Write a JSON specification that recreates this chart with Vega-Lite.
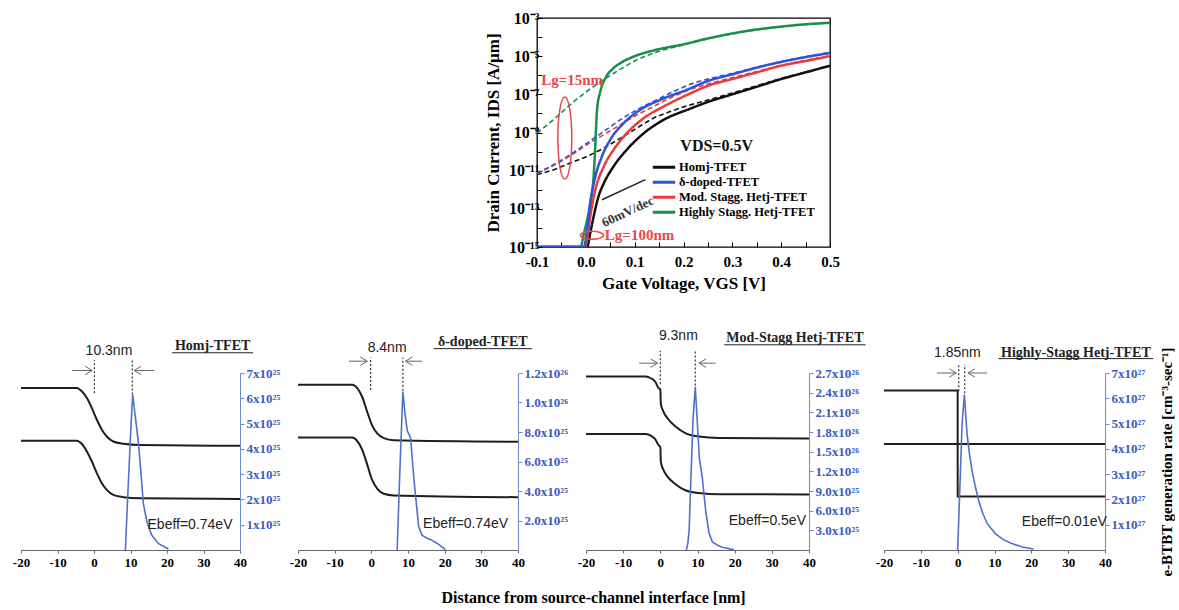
{
  "$schema": "https://vega.github.io/schema/vega-lite/v6.json",
  "background": "white",
  "padding": {"left": 12, "top": 9, "right": 0, "bottom": 0},
  "config": {
    "view": {"stroke": null},
    "font": "Liberation Serif",
    "axis": {"labelFont": "Liberation Serif", "labelFontWeight": "bold", "titleFont": "Liberation Serif", "titleFontWeight": "bold", "grid": false, "labelColor": "black", "titleColor": "black", "domainColor": "black", "tickColor": "black", "labelOverlap": false, "tickCount": 60}
  },
  "datasets": {
    "iv": [
      {"dev": "Homj-TFET", "lg": "100nm", "v": -0.1, "I": 1e-15},
      {"dev": "Homj-TFET", "lg": "100nm", "v": 0.0025, "I": 1e-15},
      {"dev": "Homj-TFET", "lg": "100nm", "v": 0.009, "I": 5.4e-15},
      {"dev": "Homj-TFET", "lg": "100nm", "v": 0.016, "I": 4.0e-14},
      {"dev": "Homj-TFET", "lg": "100nm", "v": 0.026, "I": 4.5e-13},
      {"dev": "Homj-TFET", "lg": "100nm", "v": 0.037, "I": 2.24e-12},
      {"dev": "Homj-TFET", "lg": "100nm", "v": 0.057, "I": 1.7e-11},
      {"dev": "Homj-TFET", "lg": "100nm", "v": 0.084, "I": 1.26e-10},
      {"dev": "Homj-TFET", "lg": "100nm", "v": 0.119, "I": 9.3e-10},
      {"dev": "Homj-TFET", "lg": "100nm", "v": 0.16, "I": 4.7e-9},
      {"dev": "Homj-TFET", "lg": "100nm", "v": 0.214, "I": 1.78e-8},
      {"dev": "Homj-TFET", "lg": "100nm", "v": 0.25, "I": 4.0e-8},
      {"dev": "Homj-TFET", "lg": "100nm", "v": 0.3, "I": 1.0e-7},
      {"dev": "Homj-TFET", "lg": "100nm", "v": 0.35, "I": 2.5e-7},
      {"dev": "Homj-TFET", "lg": "100nm", "v": 0.4, "I": 6.3e-7},
      {"dev": "Homj-TFET", "lg": "100nm", "v": 0.45, "I": 1.41e-6},
      {"dev": "Homj-TFET", "lg": "100nm", "v": 0.5, "I": 3.16e-6},
      {"dev": "Homj-TFET", "lg": "15nm", "v": -0.1, "I": 6.3e-12},
      {"dev": "Homj-TFET", "lg": "15nm", "v": -0.066, "I": 1.12e-11},
      {"dev": "Homj-TFET", "lg": "15nm", "v": -0.032, "I": 2.5e-11},
      {"dev": "Homj-TFET", "lg": "15nm", "v": 0.0025, "I": 5.6e-11},
      {"dev": "Homj-TFET", "lg": "15nm", "v": 0.037, "I": 1.55e-10},
      {"dev": "Homj-TFET", "lg": "15nm", "v": 0.071, "I": 5.1e-10},
      {"dev": "Homj-TFET", "lg": "15nm", "v": 0.105, "I": 1.74e-9},
      {"dev": "Homj-TFET", "lg": "15nm", "v": 0.139, "I": 5.75e-9},
      {"dev": "Homj-TFET", "lg": "15nm", "v": 0.173, "I": 1.26e-8},
      {"dev": "Homj-TFET", "lg": "15nm", "v": 0.221, "I": 3.16e-8},
      {"dev": "Homj-TFET", "lg": "15nm", "v": 0.25, "I": 5.0e-8},
      {"dev": "Homj-TFET", "lg": "15nm", "v": 0.3, "I": 1.17e-7},
      {"dev": "Homj-TFET", "lg": "15nm", "v": 0.35, "I": 2.8e-7},
      {"dev": "Homj-TFET", "lg": "15nm", "v": 0.4, "I": 6.8e-7},
      {"dev": "Homj-TFET", "lg": "15nm", "v": 0.45, "I": 1.48e-6},
      {"dev": "Homj-TFET", "lg": "15nm", "v": 0.5, "I": 3.16e-6},
      {"dev": "Mod. Stagg. Hetj-TFET", "lg": "100nm", "v": -0.1, "I": 1e-15},
      {"dev": "Mod. Stagg. Hetj-TFET", "lg": "100nm", "v": -0.001, "I": 1e-15},
      {"dev": "Mod. Stagg. Hetj-TFET", "lg": "100nm", "v": 0.0025, "I": 2.5e-15},
      {"dev": "Mod. Stagg. Hetj-TFET", "lg": "100nm", "v": 0.009, "I": 4.0e-14},
      {"dev": "Mod. Stagg. Hetj-TFET", "lg": "100nm", "v": 0.0195, "I": 1.0e-12},
      {"dev": "Mod. Stagg. Hetj-TFET", "lg": "100nm", "v": 0.037, "I": 1.7e-11},
      {"dev": "Mod. Stagg. Hetj-TFET", "lg": "100nm", "v": 0.057, "I": 1.26e-10},
      {"dev": "Mod. Stagg. Hetj-TFET", "lg": "100nm", "v": 0.084, "I": 9.3e-10},
      {"dev": "Mod. Stagg. Hetj-TFET", "lg": "100nm", "v": 0.119, "I": 5.75e-9},
      {"dev": "Mod. Stagg. Hetj-TFET", "lg": "100nm", "v": 0.16, "I": 2.34e-8},
      {"dev": "Mod. Stagg. Hetj-TFET", "lg": "100nm", "v": 0.214, "I": 1.12e-7},
      {"dev": "Mod. Stagg. Hetj-TFET", "lg": "100nm", "v": 0.25, "I": 2.8e-7},
      {"dev": "Mod. Stagg. Hetj-TFET", "lg": "100nm", "v": 0.3, "I": 6.3e-7},
      {"dev": "Mod. Stagg. Hetj-TFET", "lg": "100nm", "v": 0.35, "I": 1.41e-6},
      {"dev": "Mod. Stagg. Hetj-TFET", "lg": "100nm", "v": 0.4, "I": 3.16e-6},
      {"dev": "Mod. Stagg. Hetj-TFET", "lg": "100nm", "v": 0.45, "I": 5.6e-6},
      {"dev": "Mod. Stagg. Hetj-TFET", "lg": "100nm", "v": 0.5, "I": 1.0e-5},
      {"dev": "Mod. Stagg. Hetj-TFET", "lg": "15nm", "v": -0.1, "I": 7.1e-12},
      {"dev": "Mod. Stagg. Hetj-TFET", "lg": "15nm", "v": -0.066, "I": 1.9e-11},
      {"dev": "Mod. Stagg. Hetj-TFET", "lg": "15nm", "v": -0.032, "I": 6.0e-11},
      {"dev": "Mod. Stagg. Hetj-TFET", "lg": "15nm", "v": 0.0025, "I": 2.3e-10},
      {"dev": "Mod. Stagg. Hetj-TFET", "lg": "15nm", "v": 0.037, "I": 7.8e-10},
      {"dev": "Mod. Stagg. Hetj-TFET", "lg": "15nm", "v": 0.071, "I": 2.6e-9},
      {"dev": "Mod. Stagg. Hetj-TFET", "lg": "15nm", "v": 0.105, "I": 8.5e-9},
      {"dev": "Mod. Stagg. Hetj-TFET", "lg": "15nm", "v": 0.139, "I": 2.34e-8},
      {"dev": "Mod. Stagg. Hetj-TFET", "lg": "15nm", "v": 0.173, "I": 6.5e-8},
      {"dev": "Mod. Stagg. Hetj-TFET", "lg": "15nm", "v": 0.221, "I": 2.1e-7},
      {"dev": "Mod. Stagg. Hetj-TFET", "lg": "15nm", "v": 0.25, "I": 3.5e-7},
      {"dev": "Mod. Stagg. Hetj-TFET", "lg": "15nm", "v": 0.3, "I": 7.6e-7},
      {"dev": "Mod. Stagg. Hetj-TFET", "lg": "15nm", "v": 0.35, "I": 1.58e-6},
      {"dev": "Mod. Stagg. Hetj-TFET", "lg": "15nm", "v": 0.4, "I": 3.3e-6},
      {"dev": "Mod. Stagg. Hetj-TFET", "lg": "15nm", "v": 0.45, "I": 6.0e-6},
      {"dev": "Mod. Stagg. Hetj-TFET", "lg": "15nm", "v": 0.5, "I": 1.05e-5},
      {"dev": "Highly Stagg. Hetj-TFET", "lg": "100nm", "v": -0.1, "I": 1e-15},
      {"dev": "Highly Stagg. Hetj-TFET", "lg": "100nm", "v": -0.011, "I": 1e-15},
      {"dev": "Highly Stagg. Hetj-TFET", "lg": "100nm", "v": -0.004, "I": 5.0e-15},
      {"dev": "Highly Stagg. Hetj-TFET", "lg": "100nm", "v": 0.009, "I": 2.0e-13},
      {"dev": "Highly Stagg. Hetj-TFET", "lg": "100nm", "v": 0.016, "I": 5.0e-12},
      {"dev": "Highly Stagg. Hetj-TFET", "lg": "100nm", "v": 0.0195, "I": 2.5e-10},
      {"dev": "Highly Stagg. Hetj-TFET", "lg": "100nm", "v": 0.023, "I": 1.6e-8},
      {"dev": "Highly Stagg. Hetj-TFET", "lg": "100nm", "v": 0.03, "I": 1.5e-7},
      {"dev": "Highly Stagg. Hetj-TFET", "lg": "100nm", "v": 0.04, "I": 7.0e-7},
      {"dev": "Highly Stagg. Hetj-TFET", "lg": "100nm", "v": 0.057, "I": 2.4e-6},
      {"dev": "Highly Stagg. Hetj-TFET", "lg": "100nm", "v": 0.075, "I": 5.0e-6},
      {"dev": "Highly Stagg. Hetj-TFET", "lg": "100nm", "v": 0.1, "I": 1.0e-5},
      {"dev": "Highly Stagg. Hetj-TFET", "lg": "100nm", "v": 0.139, "I": 2.0e-5},
      {"dev": "Highly Stagg. Hetj-TFET", "lg": "100nm", "v": 0.2, "I": 4.2e-5},
      {"dev": "Highly Stagg. Hetj-TFET", "lg": "100nm", "v": 0.25, "I": 8.5e-5},
      {"dev": "Highly Stagg. Hetj-TFET", "lg": "100nm", "v": 0.3, "I": 1.55e-4},
      {"dev": "Highly Stagg. Hetj-TFET", "lg": "100nm", "v": 0.35, "I": 2.5e-4},
      {"dev": "Highly Stagg. Hetj-TFET", "lg": "100nm", "v": 0.4, "I": 3.55e-4},
      {"dev": "Highly Stagg. Hetj-TFET", "lg": "100nm", "v": 0.45, "I": 4.68e-4},
      {"dev": "Highly Stagg. Hetj-TFET", "lg": "100nm", "v": 0.5, "I": 5.62e-4},
      {"dev": "Highly Stagg. Hetj-TFET", "lg": "15nm", "v": -0.1, "I": 9.3e-10},
      {"dev": "Highly Stagg. Hetj-TFET", "lg": "15nm", "v": -0.066, "I": 4.7e-9},
      {"dev": "Highly Stagg. Hetj-TFET", "lg": "15nm", "v": -0.032, "I": 2.9e-8},
      {"dev": "Highly Stagg. Hetj-TFET", "lg": "15nm", "v": 0.0025, "I": 1.45e-7},
      {"dev": "Highly Stagg. Hetj-TFET", "lg": "15nm", "v": 0.037, "I": 5.9e-7},
      {"dev": "Highly Stagg. Hetj-TFET", "lg": "15nm", "v": 0.071, "I": 2.1e-6},
      {"dev": "Highly Stagg. Hetj-TFET", "lg": "15nm", "v": 0.105, "I": 6.5e-6},
      {"dev": "Highly Stagg. Hetj-TFET", "lg": "15nm", "v": 0.14, "I": 1.5e-5},
      {"dev": "Highly Stagg. Hetj-TFET", "lg": "15nm", "v": 0.2, "I": 3.9e-5},
      {"dev": "Highly Stagg. Hetj-TFET", "lg": "15nm", "v": 0.25, "I": 8.1e-5},
      {"dev": "Highly Stagg. Hetj-TFET", "lg": "15nm", "v": 0.3, "I": 1.5e-4},
      {"dev": "Highly Stagg. Hetj-TFET", "lg": "15nm", "v": 0.35, "I": 2.4e-4},
      {"dev": "Highly Stagg. Hetj-TFET", "lg": "15nm", "v": 0.4, "I": 3.47e-4},
      {"dev": "Highly Stagg. Hetj-TFET", "lg": "15nm", "v": 0.45, "I": 4.57e-4},
      {"dev": "Highly Stagg. Hetj-TFET", "lg": "15nm", "v": 0.5, "I": 5.5e-4},
      {"dev": "δ-doped-TFET", "lg": "100nm", "v": -0.1, "I": 1e-15},
      {"dev": "δ-doped-TFET", "lg": "100nm", "v": -0.004, "I": 1e-15},
      {"dev": "δ-doped-TFET", "lg": "100nm", "v": 0.0025, "I": 7.9e-15},
      {"dev": "δ-doped-TFET", "lg": "100nm", "v": 0.009, "I": 2.0e-13},
      {"dev": "δ-doped-TFET", "lg": "100nm", "v": 0.0195, "I": 5.0e-12},
      {"dev": "δ-doped-TFET", "lg": "100nm", "v": 0.033, "I": 5.6e-11},
      {"dev": "δ-doped-TFET", "lg": "100nm", "v": 0.05, "I": 4.2e-10},
      {"dev": "δ-doped-TFET", "lg": "100nm", "v": 0.078, "I": 3.16e-9},
      {"dev": "δ-doped-TFET", "lg": "100nm", "v": 0.112, "I": 1.58e-8},
      {"dev": "δ-doped-TFET", "lg": "100nm", "v": 0.153, "I": 5.2e-8},
      {"dev": "δ-doped-TFET", "lg": "100nm", "v": 0.207, "I": 1.74e-7},
      {"dev": "δ-doped-TFET", "lg": "100nm", "v": 0.25, "I": 5.0e-7},
      {"dev": "δ-doped-TFET", "lg": "100nm", "v": 0.3, "I": 1.12e-6},
      {"dev": "δ-doped-TFET", "lg": "100nm", "v": 0.35, "I": 2.5e-6},
      {"dev": "δ-doped-TFET", "lg": "100nm", "v": 0.4, "I": 5.0e-6},
      {"dev": "δ-doped-TFET", "lg": "100nm", "v": 0.45, "I": 8.9e-6},
      {"dev": "δ-doped-TFET", "lg": "100nm", "v": 0.5, "I": 1.48e-5},
      {"dev": "δ-doped-TFET", "lg": "15nm", "v": -0.1, "I": 7.6e-12},
      {"dev": "δ-doped-TFET", "lg": "15nm", "v": -0.066, "I": 2.04e-11},
      {"dev": "δ-doped-TFET", "lg": "15nm", "v": -0.032, "I": 6.9e-11},
      {"dev": "δ-doped-TFET", "lg": "15nm", "v": 0.0025, "I": 2.8e-10},
      {"dev": "δ-doped-TFET", "lg": "15nm", "v": 0.037, "I": 1.15e-9},
      {"dev": "δ-doped-TFET", "lg": "15nm", "v": 0.071, "I": 4.7e-9},
      {"dev": "δ-doped-TFET", "lg": "15nm", "v": 0.105, "I": 1.58e-8},
      {"dev": "δ-doped-TFET", "lg": "15nm", "v": 0.139, "I": 4.3e-8},
      {"dev": "δ-doped-TFET", "lg": "15nm", "v": 0.173, "I": 1.17e-7},
      {"dev": "δ-doped-TFET", "lg": "15nm", "v": 0.221, "I": 3.9e-7},
      {"dev": "δ-doped-TFET", "lg": "15nm", "v": 0.25, "I": 6.3e-7},
      {"dev": "δ-doped-TFET", "lg": "15nm", "v": 0.3, "I": 1.26e-6},
      {"dev": "δ-doped-TFET", "lg": "15nm", "v": 0.35, "I": 2.6e-6},
      {"dev": "δ-doped-TFET", "lg": "15nm", "v": 0.4, "I": 5.2e-6},
      {"dev": "δ-doped-TFET", "lg": "15nm", "v": 0.45, "I": 9.3e-6},
      {"dev": "δ-doped-TFET", "lg": "15nm", "v": 0.5, "I": 1.58e-5}
    ],
    "ivnote": [
      {"kind": "lg", "v": -0.028, "I": 5.9e-7, "label": "Lg=15nm"},
      {"kind": "lg", "v": 0.11, "I": 4.4e-15, "label": "Lg=100nm"},
      {"kind": "ellT", "v": -0.043, "I": 5.1e-10},
      {"kind": "ellW", "v": 0.0126, "I": 4.1e-15},
      {"kind": "slope", "v": 0.033, "I": 3.0e-13, "v2": 0.122, "I2": 3.4e-12},
      {"kind": "stxt", "v": 0.086, "I": 7.0e-14, "label": "60mV/dec"},
      {"kind": "vds", "v": 0.268, "I": 1.95e-10, "label": "VDS=0.5V"}
    ],
    "bottom": [
      {"p": 1, "k": "band", "s": "c", "x": -20, "y": 6.41},
      {"p": 1, "k": "band", "s": "c", "x": -4.7, "y": 6.41},
      {"p": 1, "k": "band", "s": "c", "x": -3.3, "y": 6.27},
      {"p": 1, "k": "band", "s": "c", "x": -1.95, "y": 6.01},
      {"p": 1, "k": "band", "s": "c", "x": -0.58, "y": 5.61},
      {"p": 1, "k": "band", "s": "c", "x": 0.78, "y": 5.15},
      {"p": 1, "k": "band", "s": "c", "x": 2.15, "y": 4.76},
      {"p": 1, "k": "band", "s": "c", "x": 3.5, "y": 4.49},
      {"p": 1, "k": "band", "s": "c", "x": 5.3, "y": 4.29},
      {"p": 1, "k": "band", "s": "c", "x": 8.1, "y": 4.2},
      {"p": 1, "k": "band", "s": "c", "x": 12.6, "y": 4.15},
      {"p": 1, "k": "band", "s": "c", "x": 40, "y": 4.12},
      {"p": 1, "k": "band", "s": "v", "x": -20, "y": 4.32},
      {"p": 1, "k": "band", "s": "v", "x": -4.7, "y": 4.32},
      {"p": 1, "k": "band", "s": "v", "x": -3.3, "y": 4.19},
      {"p": 1, "k": "band", "s": "v", "x": -1.95, "y": 3.9},
      {"p": 1, "k": "band", "s": "v", "x": -0.58, "y": 3.5},
      {"p": 1, "k": "band", "s": "v", "x": 0.78, "y": 3.04},
      {"p": 1, "k": "band", "s": "v", "x": 2.15, "y": 2.64},
      {"p": 1, "k": "band", "s": "v", "x": 3.5, "y": 2.38},
      {"p": 1, "k": "band", "s": "v", "x": 5.3, "y": 2.18},
      {"p": 1, "k": "band", "s": "v", "x": 8.1, "y": 2.09},
      {"p": 1, "k": "band", "s": "v", "x": 12.6, "y": 2.05},
      {"p": 1, "k": "band", "s": "v", "x": 40, "y": 2.02},
      {"p": 1, "k": "gen", "x": 8.6, "y": 0},
      {"p": 1, "k": "gen", "x": 9.2, "y": 2.0},
      {"p": 1, "k": "gen", "x": 10.0, "y": 4.5},
      {"p": 1, "k": "gen", "x": 10.6, "y": 6.15},
      {"p": 1, "k": "gen", "x": 11.3, "y": 5.3},
      {"p": 1, "k": "gen", "x": 12.2, "y": 4.2},
      {"p": 1, "k": "gen", "x": 13.0, "y": 2.8},
      {"p": 1, "k": "gen", "x": 13.5, "y": 1.85},
      {"p": 1, "k": "gen", "x": 14.5, "y": 1.12},
      {"p": 1, "k": "gen", "x": 15.8, "y": 0.59},
      {"p": 1, "k": "gen", "x": 17.6, "y": 0.26},
      {"p": 1, "k": "gen", "x": 20.4, "y": 0.04},
      {"p": 1, "k": "dash", "x": 0.1, "y": 6.2, "y2": 7.5},
      {"p": 1, "k": "dash", "x": 10.5, "y": 6.15, "y2": 7.5},
      {"p": 1, "k": "arrow", "x": -6, "x2": -0.5, "y": 7.1},
      {"p": 1, "k": "headR", "x": -0.5, "y": 7.1},
      {"p": 1, "k": "arrow", "x": 16.5, "x2": 11, "y": 7.1},
      {"p": 1, "k": "headL", "x": 11, "y": 7.1},
      {"p": 1, "k": "dist", "x": 4.1, "y": 7.87, "label": "10.3nm"},
      {"p": 1, "k": "eb", "x": 26.3, "y": 0.99, "label": "Ebeff=0.74eV"},
      {"p": 1, "k": "title", "x": 32.5, "y": 8.06, "label": "Homj-TFET"},
      {"p": 1, "k": "ul", "x": 21.4, "x2": 43.6, "y": 7.8},

      {"p": 2, "k": "band", "s": "c", "x": -20, "y": 11.2},
      {"p": 2, "k": "band", "s": "c", "x": -5.2, "y": 11.2},
      {"p": 2, "k": "band", "s": "c", "x": -3.85, "y": 10.97},
      {"p": 2, "k": "band", "s": "c", "x": -2.5, "y": 10.39},
      {"p": 2, "k": "band", "s": "c", "x": -1.1, "y": 9.35},
      {"p": 2, "k": "band", "s": "c", "x": 0.24, "y": 8.43},
      {"p": 2, "k": "band", "s": "c", "x": 1.6, "y": 7.9},
      {"p": 2, "k": "band", "s": "c", "x": 3.4, "y": 7.58},
      {"p": 2, "k": "band", "s": "c", "x": 6.1, "y": 7.44},
      {"p": 2, "k": "band", "s": "c", "x": 40, "y": 7.34},
      {"p": 2, "k": "band", "s": "v", "x": -20, "y": 7.62},
      {"p": 2, "k": "band", "s": "v", "x": -5.2, "y": 7.62},
      {"p": 2, "k": "band", "s": "v", "x": -3.85, "y": 7.39},
      {"p": 2, "k": "band", "s": "v", "x": -2.5, "y": 6.81},
      {"p": 2, "k": "band", "s": "v", "x": -1.1, "y": 5.77},
      {"p": 2, "k": "band", "s": "v", "x": 0.24, "y": 4.73},
      {"p": 2, "k": "band", "s": "v", "x": 1.6, "y": 4.16},
      {"p": 2, "k": "band", "s": "v", "x": 3.4, "y": 3.81},
      {"p": 2, "k": "band", "s": "v", "x": 6.1, "y": 3.7},
      {"p": 2, "k": "band", "s": "v", "x": 40, "y": 3.58},
      {"p": 2, "k": "gen", "x": 7.05, "y": 0},
      {"p": 2, "k": "gen", "x": 7.8, "y": 5.5},
      {"p": 2, "k": "gen", "x": 8.6, "y": 10.74},
      {"p": 2, "k": "gen", "x": 9.2, "y": 9.2},
      {"p": 2, "k": "gen", "x": 9.8, "y": 8.1},
      {"p": 2, "k": "gen", "x": 10.7, "y": 7.6},
      {"p": 2, "k": "gen", "x": 11.6, "y": 4.85},
      {"p": 2, "k": "gen", "x": 12.9, "y": 1.6},
      {"p": 2, "k": "gen", "x": 13.8, "y": 1.0},
      {"p": 2, "k": "gen", "x": 15.2, "y": 0.8},
      {"p": 2, "k": "gen", "x": 16.1, "y": 0.72},
      {"p": 2, "k": "gen", "x": 17.9, "y": 0.46},
      {"p": 2, "k": "gen", "x": 20.2, "y": 0.02},
      {"p": 2, "k": "dash", "x": -0.2, "y": 10.85, "y2": 13.05},
      {"p": 2, "k": "dash", "x": 8.6, "y": 10.8, "y2": 13.05},
      {"p": 2, "k": "arrow", "x": -6.1, "x2": -1.1, "y": 12.8},
      {"p": 2, "k": "headR", "x": -1.1, "y": 12.8},
      {"p": 2, "k": "arrow", "x": 13.85, "x2": 9.3, "y": 12.8},
      {"p": 2, "k": "headL", "x": 9.3, "y": 12.8},
      {"p": 2, "k": "dist", "x": 4.3, "y": 13.7, "label": "8.4nm"},
      {"p": 2, "k": "eb", "x": 25.7, "y": 1.73, "label": "Ebeff=0.74eV"},
      {"p": 2, "k": "title", "x": 30.4, "y": 14.1, "label": "δ-doped-TFET"},
      {"p": 2, "k": "ul", "x": 17.0, "x2": 43.8, "y": 13.65},

      {"p": 3, "k": "band", "s": "c", "x": -20, "y": 26.46},
      {"p": 3, "k": "band", "s": "c", "x": -3.9, "y": 26.46},
      {"p": 3, "k": "band", "s": "c", "x": -2.55, "y": 26.2},
      {"p": 3, "k": "band", "s": "c", "x": -1.4, "y": 25.7},
      {"p": 3, "k": "band", "s": "c", "x": -0.48, "y": 24.7},
      {"p": 3, "k": "band", "s": "c", "x": 0.0, "y": 24.5},
      {"p": 3, "k": "band", "s": "c", "x": 0.14, "y": 22.3},
      {"p": 3, "k": "band", "s": "c", "x": 0.77, "y": 21.2},
      {"p": 3, "k": "band", "s": "c", "x": 1.93, "y": 20.1},
      {"p": 3, "k": "band", "s": "c", "x": 4.17, "y": 18.8},
      {"p": 3, "k": "band", "s": "c", "x": 6.86, "y": 17.8},
      {"p": 3, "k": "band", "s": "c", "x": 10.4, "y": 17.3},
      {"p": 3, "k": "band", "s": "c", "x": 15.8, "y": 17.1},
      {"p": 3, "k": "band", "s": "c", "x": 40, "y": 17.0},
      {"p": 3, "k": "band", "s": "v", "x": -20, "y": 17.7},
      {"p": 3, "k": "band", "s": "v", "x": -3.9, "y": 17.7},
      {"p": 3, "k": "band", "s": "v", "x": -2.55, "y": 17.44},
      {"p": 3, "k": "band", "s": "v", "x": -1.4, "y": 16.9},
      {"p": 3, "k": "band", "s": "v", "x": -0.48, "y": 16.0},
      {"p": 3, "k": "band", "s": "v", "x": 0.0, "y": 15.7},
      {"p": 3, "k": "band", "s": "v", "x": 0.14, "y": 13.4},
      {"p": 3, "k": "band", "s": "v", "x": 0.77, "y": 12.3},
      {"p": 3, "k": "band", "s": "v", "x": 1.93, "y": 11.2},
      {"p": 3, "k": "band", "s": "v", "x": 4.17, "y": 10.0},
      {"p": 3, "k": "band", "s": "v", "x": 6.86, "y": 9.07},
      {"p": 3, "k": "band", "s": "v", "x": 10.4, "y": 8.7},
      {"p": 3, "k": "band", "s": "v", "x": 15.8, "y": 8.5},
      {"p": 3, "k": "band", "s": "v", "x": 40, "y": 8.48},
      {"p": 3, "k": "gen", "x": 7.0, "y": 0},
      {"p": 3, "k": "gen", "x": 7.4, "y": 1.0},
      {"p": 3, "k": "gen", "x": 7.75, "y": 3},
      {"p": 3, "k": "gen", "x": 8.3, "y": 12},
      {"p": 3, "k": "gen", "x": 8.8, "y": 20},
      {"p": 3, "k": "gen", "x": 9.4, "y": 24.9},
      {"p": 3, "k": "gen", "x": 9.9, "y": 20},
      {"p": 3, "k": "gen", "x": 10.5, "y": 14},
      {"p": 3, "k": "gen", "x": 11.3, "y": 11},
      {"p": 3, "k": "gen", "x": 12.2, "y": 6},
      {"p": 3, "k": "gen", "x": 13.1, "y": 2.6},
      {"p": 3, "k": "gen", "x": 14.0, "y": 1.24},
      {"p": 3, "k": "gen", "x": 15.5, "y": 0.7},
      {"p": 3, "k": "gen", "x": 16.7, "y": 0.43},
      {"p": 3, "k": "gen", "x": 19.8, "y": 0.02},
      {"p": 3, "k": "dash", "x": 0.0, "y": 25.3, "y2": 30.4},
      {"p": 3, "k": "dash", "x": 9.4, "y": 25.1, "y2": 30.4},
      {"p": 3, "k": "arrow", "x": -5.7, "x2": -0.75, "y": 28.5},
      {"p": 3, "k": "headR", "x": -0.75, "y": 28.5},
      {"p": 3, "k": "arrow", "x": 14.9, "x2": 10.4, "y": 28.5},
      {"p": 3, "k": "headL", "x": 10.4, "y": 28.5},
      {"p": 3, "k": "dist", "x": 4.85, "y": 32.6, "label": "9.3nm"},
      {"p": 3, "k": "eb", "x": 28.8, "y": 4.48, "label": "Ebeff=0.5eV"},
      {"p": 3, "k": "title", "x": 36.2, "y": 32.3, "label": "Mod-Stagg Hetj-TFET"},
      {"p": 3, "k": "ul", "x": 17.2, "x2": 55.2, "y": 31.3},

      {"p": 4, "k": "band", "s": "c", "x": -20, "y": 6.31},
      {"p": 4, "k": "band", "s": "c", "x": 0, "y": 6.31},
      {"p": 4, "k": "band", "s": "c", "x": 0, "y": 2.12},
      {"p": 4, "k": "band", "s": "c", "x": 40, "y": 2.12},
      {"p": 4, "k": "band", "s": "v", "x": -20, "y": 4.19},
      {"p": 4, "k": "band", "s": "v", "x": 40, "y": 4.19},
      {"p": 4, "k": "gen", "x": 0.0, "y": 0},
      {"p": 4, "k": "gen", "x": 0.6, "y": 2.5},
      {"p": 4, "k": "gen", "x": 1.2, "y": 5.0},
      {"p": 4, "k": "gen", "x": 1.84, "y": 6.15},
      {"p": 4, "k": "gen", "x": 2.2, "y": 5.3},
      {"p": 4, "k": "gen", "x": 2.56, "y": 4.58},
      {"p": 4, "k": "gen", "x": 3.2, "y": 3.8},
      {"p": 4, "k": "gen", "x": 3.9, "y": 3.14},
      {"p": 4, "k": "gen", "x": 4.8, "y": 2.5},
      {"p": 4, "k": "gen", "x": 5.7, "y": 1.96},
      {"p": 4, "k": "gen", "x": 6.8, "y": 1.45},
      {"p": 4, "k": "gen", "x": 8.0, "y": 1.05},
      {"p": 4, "k": "gen", "x": 10.2, "y": 0.65},
      {"p": 4, "k": "gen", "x": 12.5, "y": 0.4},
      {"p": 4, "k": "gen", "x": 14.7, "y": 0.26},
      {"p": 4, "k": "gen", "x": 17.5, "y": 0.12},
      {"p": 4, "k": "gen", "x": 20.6, "y": 0.04},
      {"p": 4, "k": "dash", "x": 0.3, "y": 6.28, "y2": 7.33},
      {"p": 4, "k": "dash", "x": 1.9, "y": 6.2, "y2": 7.33},
      {"p": 4, "k": "arrow", "x": -5.6, "x2": -0.4, "y": 7.0},
      {"p": 4, "k": "headR", "x": -0.4, "y": 7.0},
      {"p": 4, "k": "arrow", "x": 8.0, "x2": 2.8, "y": 7.0},
      {"p": 4, "k": "headL", "x": 2.8, "y": 7.0},
      {"p": 4, "k": "dist", "x": -0.1, "y": 7.79, "label": "1.85nm"},
      {"p": 4, "k": "eb", "x": 28.95, "y": 1.11, "label": "Ebeff=0.01eV"},
      {"p": 4, "k": "title", "x": 32.1, "y": 7.79, "label": "Highly-Stagg Hetj-TFET"},
      {"p": 4, "k": "ul", "x": 11.1, "x2": 53.1, "y": 7.57}
    ]
  },
  "spacing": 37,
  "vconcat": [
    {
      "spacing": 0,
      "hconcat": [
        {"width": 462, "height": 10, "data": {"values": [{"a": 1}]}, "mark": {"type": "text", "text": ""}},
        {
          "width": 293, "height": 229,
          "view": {"stroke": "black", "strokeWidth": 1.3},
          "layer": [
            {
              "data": {"name": "iv"},
              "mark": {"type": "line", "interpolate": "monotone", "clip": true},
              "encoding": {
                "x": {"field": "v", "type": "quantitative", "scale": {"domain": [-0.1, 0.5], "nice": false, "zero": false},
                  "axis": {"title": "Gate Voltage, VGS [V]", "values": [-0.1, -0.05, 0, 0.05, 0.1, 0.15, 0.2, 0.25, 0.3, 0.35, 0.4, 0.45, 0.5], "tickCount": 60,
                    "labelExpr": "abs(datum.value*20 - round(datum.value*10)*2) > 0.5 ? '' : (datum.value < -0.001 ? '-' + format(-datum.value, '.1f') : format(abs(datum.value), '.1f'))",
                    "labelFontSize": 15, "titleFontSize": 17, "tickSize": -5, "labelPadding": 12, "titlePadding": 6, "domain": false, "labelFlush": false, "labelOverlap": false}},
                "y": {"field": "I", "type": "quantitative", "scale": {"type": "log", "domain": [1e-15, 1e-3]},
                  "axis": {"title": "Drain Current, IDS [A/μm]", "values": [1e-15, 1e-14, 1e-13, 1e-12, 1e-11, 1e-10, 1e-9, 1e-8, 1e-7, 1e-6, 1e-5, 1e-4, 1e-3], "tickCount": 60,
                    "labelExpr": "'10' + ({'-3': '⁻³', '-5': '⁻⁵', '-7': '⁻⁷', '-9': '⁻⁹', '-11': '⁻¹¹', '-13': '⁻¹³', '-15': '⁻¹⁵'}[''+round(log(datum.value)/LN10)] || '') == '10' ? '' : '10' + ({'-3': '⁻³', '-5': '⁻⁵', '-7': '⁻⁷', '-9': '⁻⁹', '-11': '⁻¹¹', '-13': '⁻¹³', '-15': '⁻¹⁵'}[''+round(log(datum.value)/LN10)])",
                    "labelFontSize": 16, "titleFontSize": 17, "tickSize": -5, "labelPadding": 3, "titlePadding": 6, "domain": false, "labelOverlap": false, "labelFlush": false}},
                "color": {"field": "dev", "type": "nominal",
                  "scale": {"domain": ["Homj-TFET", "δ-doped-TFET", "Mod. Stagg. Hetj-TFET", "Highly Stagg. Hetj-TFET"], "range": ["#111111", "#2f52d6", "#ea3b3b", "#189048"]},
                  "legend": {"title": null, "orient": "none", "legendX": 630, "legendY": 142, "symbolType": "stroke", "symbolSize": 500, "symbolStrokeWidth": 3,
                    "labelFont": "Liberation Serif", "labelFontWeight": "bold", "labelFontSize": 12.5, "labelColor": "black", "labelOffset": 2, "rowPadding": 0, "clipHeight": 14.5, "padding": 0}},
                "strokeDash": {"field": "lg", "type": "nominal", "scale": {"domain": ["100nm", "15nm"], "range": [[1, 0], [5, 3]]}, "legend": null},
                "strokeWidth": {"field": "lg", "type": "nominal", "scale": {"domain": ["100nm", "15nm"], "range": [2.5, 1.6]}, "legend": null}
              }
            },
            {
              "data": {"name": "ivnote"},
              "transform": [{"filter": "datum.kind == 'lg'"}],
              "mark": {"type": "text", "color": "#e8474b", "font": "Liberation Serif", "fontWeight": "bold", "fontSize": 15},
              "encoding": {"x": {"field": "v", "type": "quantitative"}, "y": {"field": "I", "type": "quantitative"}, "text": {"field": "label"}}
            },
            {
              "data": {"name": "ivnote"},
              "transform": [{"filter": "datum.kind == 'ellT'"}],
              "mark": {"type": "point", "shape": "M 0 -1 A 0.17 1 0 1 1 0 1 A 0.17 1 0 1 1 0 -1", "size": 6724, "filled": false, "color": "#e8474b", "strokeWidth": 1.5, "opacity": 1},
              "encoding": {"x": {"field": "v", "type": "quantitative"}, "y": {"field": "I", "type": "quantitative"}}
            },
            {
              "data": {"name": "ivnote"},
              "transform": [{"filter": "datum.kind == 'ellW'"}],
              "mark": {"type": "point", "shape": "M -1 0 A 1 0.35 0 1 1 1 0 A 1 0.35 0 1 1 -1 0", "size": 529, "filled": false, "color": "#e8474b", "strokeWidth": 1.5, "opacity": 1},
              "encoding": {"x": {"field": "v", "type": "quantitative"}, "y": {"field": "I", "type": "quantitative"}}
            },
            {
              "data": {"name": "ivnote"},
              "transform": [{"filter": "datum.kind == 'slope'"}],
              "mark": {"type": "rule", "color": "#222", "strokeWidth": 1.5},
              "encoding": {"x": {"field": "v", "type": "quantitative"}, "y": {"field": "I", "type": "quantitative"}, "x2": {"field": "v2"}, "y2": {"field": "I2"}}
            },
            {
              "data": {"name": "ivnote"},
              "transform": [{"filter": "datum.kind == 'stxt'"}],
              "mark": {"type": "text", "color": "#333", "font": "Liberation Serif", "fontWeight": "bold", "fontSize": 13, "angle": 335},
              "encoding": {"x": {"field": "v", "type": "quantitative"}, "y": {"field": "I", "type": "quantitative"}, "text": {"field": "label"}}
            },
            {
              "data": {"name": "ivnote"},
              "transform": [{"filter": "datum.kind == 'vds'"}],
              "mark": {"type": "text", "color": "#111", "font": "Liberation Serif", "fontWeight": "bold", "fontSize": 16},
              "encoding": {"x": {"field": "v", "type": "quantitative"}, "y": {"field": "I", "type": "quantitative"}, "text": {"field": "label"}}
            }
          ]
        }
      ]
    },
    {
      "spacing": 9,
      "title": {"text": "Distance from source-channel interface [nm]", "orient": "bottom", "anchor": "middle", "font": "Liberation Serif", "fontWeight": "bold", "fontSize": 16, "offset": 12, "color": "black"},
      "hconcat": [
        {
          "width": 219, "height": 177,
          "data": {"name": "bottom"},
          "transform": [{"filter": "datum.p == 1"}],
          "layer": [
            {"transform": [{"filter": "datum.k == 'band'"}], "mark": {"type": "line", "color": "#1e1e1e", "strokeWidth": 2, "interpolate": "monotone"},
             "encoding": {
               "x": {"field": "x", "type": "quantitative", "scale": {"domain": [-20, 40], "nice": false, "zero": false},
                 "axis": {"title": null, "values": [-20, -10, 0, 10, 20, 30, 40], "tickCount": 60, "labelExpr": "datum.value < 0 ? '-' + (-datum.value) : '' + datum.value", "labelFontSize": 13, "domainColor": "#666", "tickColor": "#666", "tickSize": 3, "labelPadding": 3, "labelFlush": false, "labelOverlap": false}},
               "y": {"field": "y", "type": "quantitative", "scale": {"domain": [0, 7], "nice": false},
                 "axis": {"orient": "right", "title": null, "values": [1, 2, 3, 4, 5, 6, 7], "tickCount": 60, "labelExpr": "datum.value + 'x10²⁵'", "labelColor": "#3b5bbf", "domainColor": "#6f8bd0", "tickColor": "#6f8bd0", "labelFontSize": 13, "tickSize": 4, "labelPadding": 2, "labelOverlap": false, "labelFlush": false}},
               "detail": {"field": "s"}}},
            {"transform": [{"filter": "datum.k == 'gen'"}], "mark": {"type": "line", "color": "#4f71c9", "strokeWidth": 1.6},
             "encoding": {"x": {"field": "x", "type": "quantitative"}, "y": {"field": "y", "type": "quantitative"}}},
            {"transform": [{"filter": "datum.k == 'dash'"}], "mark": {"type": "rule", "color": "#333", "strokeWidth": 1.2, "strokeDash": [2, 2]},
             "encoding": {"x": {"field": "x", "type": "quantitative"}, "y": {"field": "y", "type": "quantitative"}, "y2": {"field": "y2"}}},
            {"transform": [{"filter": "datum.k == 'arrow'"}], "mark": {"type": "rule", "color": "#666", "strokeWidth": 1},
             "encoding": {"x": {"field": "x", "type": "quantitative"}, "x2": {"field": "x2"}, "y": {"field": "y", "type": "quantitative"}}},
            {"transform": [{"filter": "datum.k == 'headR'"}], "mark": {"type": "point", "shape": "M -1 -0.6 L 0 0 L -1 0.6", "size": 196, "filled": false, "color": "#666", "strokeWidth": 1, "opacity": 1},
             "encoding": {"x": {"field": "x", "type": "quantitative"}, "y": {"field": "y", "type": "quantitative"}}},
            {"transform": [{"filter": "datum.k == 'headL'"}], "mark": {"type": "point", "shape": "M 1 -0.6 L 0 0 L 1 0.6", "size": 196, "filled": false, "color": "#666", "strokeWidth": 1, "opacity": 1},
             "encoding": {"x": {"field": "x", "type": "quantitative"}, "y": {"field": "y", "type": "quantitative"}}},
            {"transform": [{"filter": "datum.k == 'ul'"}], "mark": {"type": "rule", "color": "#222", "strokeWidth": 1},
             "encoding": {"x": {"field": "x", "type": "quantitative"}, "x2": {"field": "x2"}, "y": {"field": "y", "type": "quantitative"}}},
            {"transform": [{"filter": "datum.k == 'title'"}], "mark": {"type": "text", "font": "Liberation Serif", "fontWeight": "bold", "fontSize": 14, "color": "#222"},
             "encoding": {"x": {"field": "x", "type": "quantitative"}, "y": {"field": "y", "type": "quantitative"}, "text": {"field": "label"}}},
            {"transform": [{"filter": "datum.k == 'dist' || datum.k == 'eb'"}], "mark": {"type": "text", "font": "Liberation Sans", "fontSize": 14, "color": "#222"},
             "encoding": {"x": {"field": "x", "type": "quantitative"}, "y": {"field": "y", "type": "quantitative"}, "text": {"field": "label"}}}
          ]
        },
        {
          "width": 220, "height": 177,
          "data": {"name": "bottom"},
          "transform": [{"filter": "datum.p == 2"}],
          "layer": [
            {"transform": [{"filter": "datum.k == 'band'"}], "mark": {"type": "line", "color": "#1e1e1e", "strokeWidth": 2, "interpolate": "monotone"},
             "encoding": {
               "x": {"field": "x", "type": "quantitative", "scale": {"domain": [-20, 40], "nice": false, "zero": false},
                 "axis": {"title": null, "values": [-20, -10, 0, 10, 20, 30, 40], "tickCount": 60, "labelExpr": "datum.value < 0 ? '-' + (-datum.value) : '' + datum.value", "labelFontSize": 13, "domainColor": "#666", "tickColor": "#666", "tickSize": 3, "labelPadding": 3, "labelFlush": false, "labelOverlap": false}},
               "y": {"field": "y", "type": "quantitative", "scale": {"domain": [0, 12], "nice": false},
                 "axis": {"orient": "right", "title": null, "values": [2, 4, 6, 8, 10, 12], "tickCount": 60, "labelExpr": "datum.value < 9.5 ? format(datum.value, '.1f') + 'x10²⁵' : format(datum.value / 10, '.1f') + 'x10²⁶'", "labelColor": "#3b5bbf", "domainColor": "#6f8bd0", "tickColor": "#6f8bd0", "labelFontSize": 13, "tickSize": 4, "labelPadding": 2, "labelOverlap": false, "labelFlush": false}},
               "detail": {"field": "s"}}},
            {"transform": [{"filter": "datum.k == 'gen'"}], "mark": {"type": "line", "color": "#4f71c9", "strokeWidth": 1.6},
             "encoding": {"x": {"field": "x", "type": "quantitative"}, "y": {"field": "y", "type": "quantitative"}}},
            {"transform": [{"filter": "datum.k == 'dash'"}], "mark": {"type": "rule", "color": "#333", "strokeWidth": 1.2, "strokeDash": [2, 2]},
             "encoding": {"x": {"field": "x", "type": "quantitative"}, "y": {"field": "y", "type": "quantitative"}, "y2": {"field": "y2"}}},
            {"transform": [{"filter": "datum.k == 'arrow'"}], "mark": {"type": "rule", "color": "#666", "strokeWidth": 1},
             "encoding": {"x": {"field": "x", "type": "quantitative"}, "x2": {"field": "x2"}, "y": {"field": "y", "type": "quantitative"}}},
            {"transform": [{"filter": "datum.k == 'headR'"}], "mark": {"type": "point", "shape": "M -1 -0.6 L 0 0 L -1 0.6", "size": 196, "filled": false, "color": "#666", "strokeWidth": 1, "opacity": 1},
             "encoding": {"x": {"field": "x", "type": "quantitative"}, "y": {"field": "y", "type": "quantitative"}}},
            {"transform": [{"filter": "datum.k == 'headL'"}], "mark": {"type": "point", "shape": "M 1 -0.6 L 0 0 L 1 0.6", "size": 196, "filled": false, "color": "#666", "strokeWidth": 1, "opacity": 1},
             "encoding": {"x": {"field": "x", "type": "quantitative"}, "y": {"field": "y", "type": "quantitative"}}},
            {"transform": [{"filter": "datum.k == 'ul'"}], "mark": {"type": "rule", "color": "#222", "strokeWidth": 1},
             "encoding": {"x": {"field": "x", "type": "quantitative"}, "x2": {"field": "x2"}, "y": {"field": "y", "type": "quantitative"}}},
            {"transform": [{"filter": "datum.k == 'title'"}], "mark": {"type": "text", "font": "Liberation Serif", "fontWeight": "bold", "fontSize": 14, "color": "#222"},
             "encoding": {"x": {"field": "x", "type": "quantitative"}, "y": {"field": "y", "type": "quantitative"}, "text": {"field": "label"}}},
            {"transform": [{"filter": "datum.k == 'dist' || datum.k == 'eb'"}], "mark": {"type": "text", "font": "Liberation Sans", "fontSize": 14, "color": "#222"},
             "encoding": {"x": {"field": "x", "type": "quantitative"}, "y": {"field": "y", "type": "quantitative"}, "text": {"field": "label"}}}
          ]
        },
        {
          "width": 223, "height": 177,
          "data": {"name": "bottom"},
          "transform": [{"filter": "datum.p == 3"}],
          "layer": [
            {"transform": [{"filter": "datum.k == 'band'"}], "mark": {"type": "line", "color": "#1e1e1e", "strokeWidth": 2, "interpolate": "monotone"},
             "encoding": {
               "x": {"field": "x", "type": "quantitative", "scale": {"domain": [-20, 40], "nice": false, "zero": false},
                 "axis": {"title": null, "values": [-20, -10, 0, 10, 20, 30, 40], "tickCount": 60, "labelExpr": "datum.value < 0 ? '-' + (-datum.value) : '' + datum.value", "labelFontSize": 13, "domainColor": "#666", "tickColor": "#666", "tickSize": 3, "labelPadding": 3, "labelFlush": false, "labelOverlap": false}},
               "y": {"field": "y", "type": "quantitative", "scale": {"domain": [0, 27], "nice": false},
                 "axis": {"orient": "right", "title": null, "values": [3, 6, 9, 12, 15, 18, 21, 24, 27], "tickCount": 60, "labelExpr": "datum.value < 9.5 ? format(datum.value, '.1f') + 'x10²⁵' : format(datum.value / 10, '.1f') + 'x10²⁶'", "labelColor": "#3b5bbf", "domainColor": "#6f8bd0", "tickColor": "#6f8bd0", "labelFontSize": 13, "tickSize": 4, "labelPadding": 2, "labelOverlap": false, "labelFlush": false}},
               "detail": {"field": "s"}}},
            {"transform": [{"filter": "datum.k == 'gen'"}], "mark": {"type": "line", "color": "#4f71c9", "strokeWidth": 1.6},
             "encoding": {"x": {"field": "x", "type": "quantitative"}, "y": {"field": "y", "type": "quantitative"}}},
            {"transform": [{"filter": "datum.k == 'dash'"}], "mark": {"type": "rule", "color": "#333", "strokeWidth": 1.2, "strokeDash": [2, 2]},
             "encoding": {"x": {"field": "x", "type": "quantitative"}, "y": {"field": "y", "type": "quantitative"}, "y2": {"field": "y2"}}},
            {"transform": [{"filter": "datum.k == 'arrow'"}], "mark": {"type": "rule", "color": "#666", "strokeWidth": 1},
             "encoding": {"x": {"field": "x", "type": "quantitative"}, "x2": {"field": "x2"}, "y": {"field": "y", "type": "quantitative"}}},
            {"transform": [{"filter": "datum.k == 'headR'"}], "mark": {"type": "point", "shape": "M -1 -0.6 L 0 0 L -1 0.6", "size": 196, "filled": false, "color": "#666", "strokeWidth": 1, "opacity": 1},
             "encoding": {"x": {"field": "x", "type": "quantitative"}, "y": {"field": "y", "type": "quantitative"}}},
            {"transform": [{"filter": "datum.k == 'headL'"}], "mark": {"type": "point", "shape": "M 1 -0.6 L 0 0 L 1 0.6", "size": 196, "filled": false, "color": "#666", "strokeWidth": 1, "opacity": 1},
             "encoding": {"x": {"field": "x", "type": "quantitative"}, "y": {"field": "y", "type": "quantitative"}}},
            {"transform": [{"filter": "datum.k == 'ul'"}], "mark": {"type": "rule", "color": "#222", "strokeWidth": 1},
             "encoding": {"x": {"field": "x", "type": "quantitative"}, "x2": {"field": "x2"}, "y": {"field": "y", "type": "quantitative"}}},
            {"transform": [{"filter": "datum.k == 'title'"}], "mark": {"type": "text", "font": "Liberation Serif", "fontWeight": "bold", "fontSize": 14, "color": "#222"},
             "encoding": {"x": {"field": "x", "type": "quantitative"}, "y": {"field": "y", "type": "quantitative"}, "text": {"field": "label"}}},
            {"transform": [{"filter": "datum.k == 'dist' || datum.k == 'eb'"}], "mark": {"type": "text", "font": "Liberation Sans", "fontSize": 14, "color": "#222"},
             "encoding": {"x": {"field": "x", "type": "quantitative"}, "y": {"field": "y", "type": "quantitative"}, "text": {"field": "label"}}}
          ]
        },
        {
          "width": 221, "height": 177,
          "data": {"name": "bottom"},
          "transform": [{"filter": "datum.p == 4"}],
          "layer": [
            {"transform": [{"filter": "datum.k == 'band'"}], "mark": {"type": "line", "color": "#1e1e1e", "strokeWidth": 2},
             "encoding": {
               "x": {"field": "x", "type": "quantitative", "scale": {"domain": [-20, 40], "nice": false, "zero": false},
                 "axis": {"title": null, "values": [-20, -10, 0, 10, 20, 30, 40], "tickCount": 60, "labelExpr": "datum.value < 0 ? '-' + (-datum.value) : '' + datum.value", "labelFontSize": 13, "domainColor": "#666", "tickColor": "#666", "tickSize": 3, "labelPadding": 3, "labelFlush": false, "labelOverlap": false}},
               "y": {"field": "y", "type": "quantitative", "scale": {"domain": [0, 7], "nice": false},
                 "axis": {"orient": "right", "title": "e-BTBT generation rate  [cm⁻³-sec⁻¹]", "titleAngle": 270, "titleFontSize": 15, "titlePadding": 30, "values": [1, 2, 3, 4, 5, 6, 7], "tickCount": 60, "labelExpr": "datum.value + 'x10²⁷'", "labelColor": "#3b5bbf", "domainColor": "#6f8bd0", "tickColor": "#6f8bd0", "labelFontSize": 13, "tickSize": 4, "labelPadding": 2, "labelOverlap": false, "labelFlush": false}},
               "detail": {"field": "s"}}},
            {"transform": [{"filter": "datum.k == 'gen'"}], "mark": {"type": "line", "color": "#4f71c9", "strokeWidth": 1.6},
             "encoding": {"x": {"field": "x", "type": "quantitative"}, "y": {"field": "y", "type": "quantitative"}}},
            {"transform": [{"filter": "datum.k == 'dash'"}], "mark": {"type": "rule", "color": "#333", "strokeWidth": 1.2, "strokeDash": [2, 2]},
             "encoding": {"x": {"field": "x", "type": "quantitative"}, "y": {"field": "y", "type": "quantitative"}, "y2": {"field": "y2"}}},
            {"transform": [{"filter": "datum.k == 'arrow'"}], "mark": {"type": "rule", "color": "#666", "strokeWidth": 1},
             "encoding": {"x": {"field": "x", "type": "quantitative"}, "x2": {"field": "x2"}, "y": {"field": "y", "type": "quantitative"}}},
            {"transform": [{"filter": "datum.k == 'headR'"}], "mark": {"type": "point", "shape": "M -1 -0.6 L 0 0 L -1 0.6", "size": 196, "filled": false, "color": "#666", "strokeWidth": 1, "opacity": 1},
             "encoding": {"x": {"field": "x", "type": "quantitative"}, "y": {"field": "y", "type": "quantitative"}}},
            {"transform": [{"filter": "datum.k == 'headL'"}], "mark": {"type": "point", "shape": "M 1 -0.6 L 0 0 L 1 0.6", "size": 196, "filled": false, "color": "#666", "strokeWidth": 1, "opacity": 1},
             "encoding": {"x": {"field": "x", "type": "quantitative"}, "y": {"field": "y", "type": "quantitative"}}},
            {"transform": [{"filter": "datum.k == 'ul'"}], "mark": {"type": "rule", "color": "#222", "strokeWidth": 1},
             "encoding": {"x": {"field": "x", "type": "quantitative"}, "x2": {"field": "x2"}, "y": {"field": "y", "type": "quantitative"}}},
            {"transform": [{"filter": "datum.k == 'title'"}], "mark": {"type": "text", "font": "Liberation Serif", "fontWeight": "bold", "fontSize": 14, "color": "#222"},
             "encoding": {"x": {"field": "x", "type": "quantitative"}, "y": {"field": "y", "type": "quantitative"}, "text": {"field": "label"}}},
            {"transform": [{"filter": "datum.k == 'dist' || datum.k == 'eb'"}], "mark": {"type": "text", "font": "Liberation Sans", "fontSize": 14, "color": "#222"},
             "encoding": {"x": {"field": "x", "type": "quantitative"}, "y": {"field": "y", "type": "quantitative"}, "text": {"field": "label"}}}
          ]
        }
      ]
    }
  ]
}
